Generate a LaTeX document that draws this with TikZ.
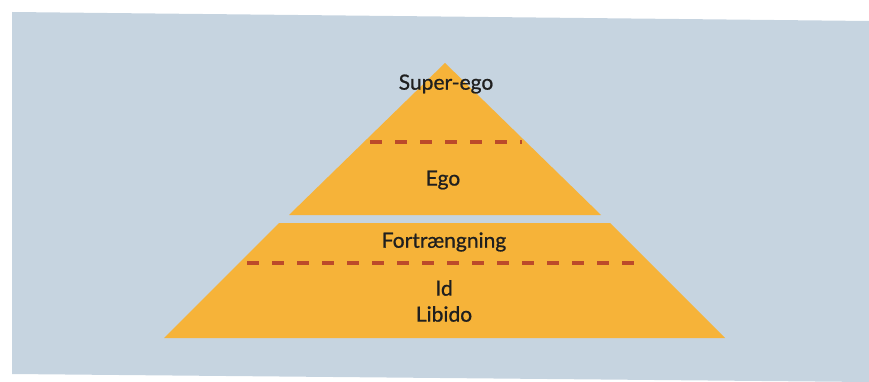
\documentclass[tikz,border=0pt]{standalone}
\usepackage{fontspec}
\setmainfont{Lato}
\newfontfamily\lblfont{Lato}[FakeBold=0.8]
\usepackage{xcolor}
\usepackage{tikz}
\usetikzlibrary{positioning,calc}

\definecolor{panelblue}{HTML}{C6D4E0}
\definecolor{layerorange}{HTML}{F6B339}
\definecolor{dashred}{HTML}{BC4A2A}

\begin{document}
\begin{tikzpicture}[
    x=1pt, y=-1pt,
    layer/.style={fill=layerorange, draw=none},
    divide/.style={draw=dashred, line width=3.4pt, dash pattern=on 12pt off 13pt},
    lbl/.style={font=\lblfont\fontsize{21}{24}\selectfont, text=black!88, inner sep=0pt}
]
\useasboundingbox (0,0) rectangle (869,382);

% Background panel
\fill[panelblue] (12,12) -- (869,21) -- (869,382) -- (12,374) -- cycle;

% Upper triangle
\coordinate (apex) at (445,63);
\coordinate (tbl) at (289,215);
\coordinate (tbr) at (601,215);
\fill[layer] (apex) -- (tbr) -- (tbl) -- cycle;

% Lower trapezoid
\coordinate (ztl) at (279,223);
\coordinate (ztr) at (610,223);
\coordinate (zbr) at (725,338);
\coordinate (zbl) at (164,338);
\fill[layer] (ztl) -- (ztr) -- (zbr) -- (zbl) -- cycle;

% Dividing lines
\draw[divide] (370,142) -- (522,142);
\draw[divide] (247,263) -- (642,263);

% Labels
\node[lbl] (superego) at (446,84) {Super-ego};
\node[lbl] (ego) at (443,180) {Ego};
\node[lbl] (fort) at (444,242) {Fortrængning};
\node[lbl] (id) at (444,288) {Id};
\node[lbl] (libido) at (444,314) {Libido};

\end{tikzpicture}
\end{document}
